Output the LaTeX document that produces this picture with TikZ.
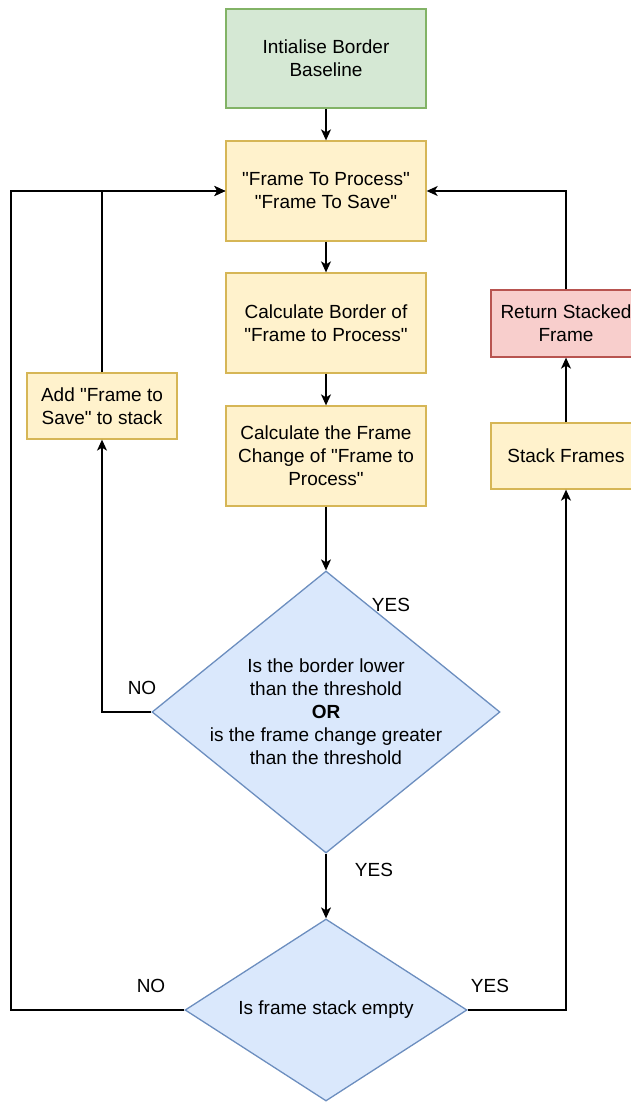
\documentclass[tikz,border=0pt]{standalone}
\usepackage{fontspec}
\setmainfont{Liberation Sans}[Ligatures=TeXOff]
\usetikzlibrary{arrows.meta,shapes.geometric}

\definecolor{greenfill}{HTML}{D5E8D4}
\definecolor{greenline}{HTML}{82B366}
\definecolor{yellowfill}{HTML}{FFF2CC}
\definecolor{yellowline}{HTML}{D6B656}
\definecolor{redfill}{HTML}{F8CECC}
\definecolor{redline}{HTML}{B85450}
\definecolor{bluefill}{HTML}{DAE8FC}
\definecolor{blueline}{HTML}{6C8EBF}

\tikzset{
  txt/.style={font=\fontsize{19}{23}\selectfont, align=center, inner sep=0pt},
  box/.style={txt, rectangle, line width=1.3pt},
  startbox/.style={box, draw=greenline, fill=greenfill, minimum width=200pt, minimum height=99pt},
  procbox/.style={box, draw=yellowline, fill=yellowfill, minimum width=200pt, minimum height=100pt},
  sidebox/.style={box, draw=yellowline, fill=yellowfill, minimum width=150pt, minimum height=66pt},
  endbox/.style={box, draw=redline, fill=redfill, minimum width=150pt, minimum height=67pt},
  decision/.style={diamond, draw=blueline, fill=bluefill, line width=1.3pt, inner sep=0pt},
  arr/.style={line width=1.3pt, -{Stealth[length=11pt,width=10pt,inset=3pt]}},
  lbl/.style={txt}
}

\begin{document}
\begin{tikzpicture}[x=1pt,y=-1pt]
\clip (0,0) rectangle (631,1102);

% main column
\node[startbox] (init)  at (326,58.5) {Intialise Border\\Baseline};
\node[procbox]  (ftp)   at (326,191)  {"Frame To Process"\\"Frame To Save"};
\node[procbox]  (calcb) at (326,323)  {Calculate Border of\\"Frame to Process"};
\node[procbox]  (calcc) at (326,456)  {Calculate the Frame\\Change of "Frame to\\Process"};

% side boxes
\node[sidebox] (add)   at (102,406)   {Add "Frame to\\Save" to stack};
\node[endbox]  (ret)   at (566,323.5) {Return Stacked\\Frame};
\node[sidebox] (stack) at (566,456)   {Stack Frames};

% decisions
\node[decision, minimum width=348pt, minimum height=282pt] (d1) at (326,712) {};
\node[txt] (d1text) at (326,712) {Is the border lower\\than the threshold\\\textbf{OR}\\is the frame change greater\\than the threshold};
\node[decision, minimum width=282pt, minimum height=182pt] (d2) at (326,1010) {};
\node[txt] (d2text) at (326,1010) {Is frame stack empty};

\coordinate (loopL) at (11,1010);

% connectors
\draw[arr] (init) -- (ftp);
\draw[arr] (ftp) -- (calcb);
\draw[arr] (calcb) -- (calcc);
\draw[arr] (calcc.south) -- (d1.north);
\draw[arr] (d1.west) -| (add.south);
\draw[arr] (add.north) |- (ftp.west);
\draw[arr] (d1.south) -- (d2.north);
\draw[arr] (d2.west) -- (loopL) |- (ftp.west);
\draw[arr] (d2.east) -| (stack.south);
\draw[arr] (stack) -- (ret);
\draw[arr] (ret.north) |- (ftp.east);

% branch labels
\node[lbl] (yes1) at (391,605) {YES};
\node[lbl] (no1)  at (142,688) {NO};
\node[lbl] (yes2) at (374,870) {YES};
\node[lbl] (no2)  at (151,986) {NO};
\node[lbl] (yes3) at (490,986) {YES};
\end{tikzpicture}
\end{document}
